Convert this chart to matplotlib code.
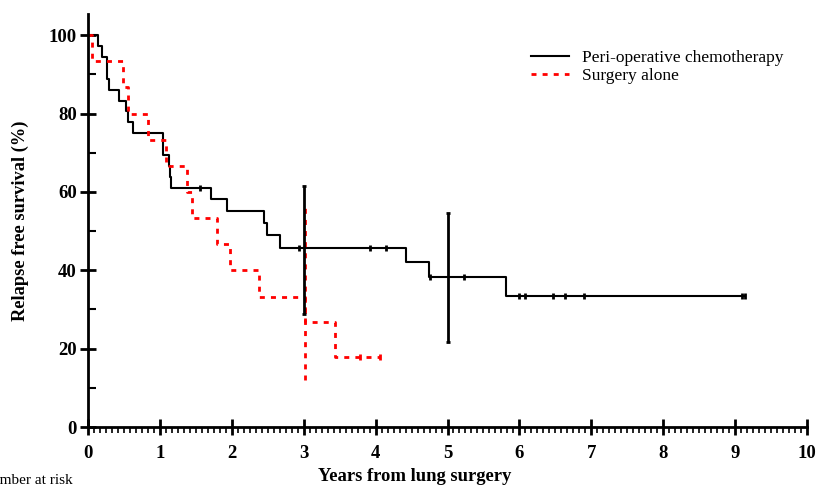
import numpy as np
import matplotlib
matplotlib.use("Agg")
import matplotlib.pyplot as plt
from matplotlib.ticker import MultipleLocator

plt.rcParams['font.family'] = ['Liberation Serif', 'DejaVu Serif']

# Peri-operative chemotherapy (Kaplan-Meier steps)
chemo_t = [0, 0.135, 0.19, 0.27, 0.29, 0.435, 0.53, 0.55, 0.63, 1.05, 1.12, 1.14,
           1.16, 1.71, 1.94, 2.45, 2.49, 2.67, 4.42, 4.74, 5.81, 9.14]
chemo_s = [100, 97.2, 94.4, 88.9, 86.1, 83.3, 80.6, 77.8, 75.0, 69.4, 66.7, 63.9,
           61.1, 58.1, 55.1, 52.0, 49.0, 45.8, 42.0, 38.3, 33.5, 33.5]
chemo_cens_t = [1.56, 2.93, 3.92, 4.14, 4.76, 5.23, 5.99, 6.08, 6.47, 6.63, 6.90, 9.09, 9.14]
chemo_cens_s = [61.1, 45.8, 45.8, 45.8, 38.3, 38.3, 33.5, 33.5, 33.5, 33.5, 33.5, 33.5, 33.5]
chemo_err_t = [3.0, 5.0]
chemo_err_mid = [45.8, 38.3]
chemo_err_lo = [28.8, 21.8]
chemo_err_hi = [61.5, 54.5]

# Surgery alone
surg_t = [0, 0.06, 0.49, 0.56, 0.84, 1.08, 1.38, 1.44, 1.79, 1.97, 2.38, 3.02, 3.44, 4.06]
surg_s = [100, 93.3, 86.7, 80.0, 73.3, 66.7, 60.0, 53.3, 46.7, 40.0, 33.3, 26.7, 17.8, 17.8]
surg_cens_t = [3.78, 4.06]
surg_cens_s = [17.8, 17.8]
surg_err_t = [3.02]
surg_err_lo = [12.0]
surg_err_hi = [56.2]

fig = plt.figure(figsize=(8.19, 4.86), dpi=100)
ax = fig.add_axes([88/819, 1-427/486, (807-88)/819, (427-14)/486])

red_ls = (0, (1.8, 2.2))
ax.step(chemo_t, chemo_s, where='post', color='black', lw=1.5,
        label='Peri-operative chemotherapy')
ax.step(surg_t, surg_s, where='post', color='#ff0000', lw=2.0, linestyle=red_ls,
        label='Surgery alone')

ax.plot(chemo_cens_t, chemo_cens_s, '|', color='black', ms=5, mew=2)
ax.plot(surg_cens_t, surg_cens_s, '|', color='#ff0000', ms=4, mew=2)

ax.vlines(surg_err_t, surg_err_lo, surg_err_hi, color='#ff0000', lw=2.0, linestyle=red_ls)
lo = np.array(chemo_err_mid) - np.array(chemo_err_lo)
hi = np.array(chemo_err_hi) - np.array(chemo_err_mid)
ax.errorbar(chemo_err_t, chemo_err_mid, yerr=[lo, hi], fmt='none', ecolor='black',
            elinewidth=2, capsize=1.5, capthick=2)

ax.set_xlim(0, 10)
ax.set_ylim(0, 105.4)
ax.spines['top'].set_visible(False)
ax.spines['right'].set_visible(False)
for s in ['left', 'bottom']:
    ax.spines[s].set_linewidth(2)

ax.xaxis.set_major_locator(MultipleLocator(1))
ax.xaxis.set_minor_locator(MultipleLocator(1/12))
ax.yaxis.set_major_locator(MultipleLocator(20))
ax.yaxis.set_minor_locator(MultipleLocator(10))
ax.tick_params(axis='both', which='major', direction='inout', length=12, width=2,
               labelsize=13.5, pad=2)
ax.tick_params(axis='x', which='major', pad=7)
ax.tick_params(axis='x', which='minor', direction='out', length=4, width=1.2)
ax.tick_params(axis='y', which='minor', direction='in', length=6, width=1.5)
for lab in ax.get_xticklabels() + ax.get_yticklabels():
    lab.set_fontweight('bold')

ax.set_xlabel('Years from lung surgery', fontsize=13.4, fontweight='bold', labelpad=1)
ax.xaxis.set_label_coords((415-88)/719, -0.10)
ax.set_ylabel('Relapse free survival (%)', fontsize=13.2, fontweight='bold', labelpad=14)

ax.legend(loc='upper left', bbox_to_anchor=(531/819, 1-50/486),
          bbox_transform=fig.transFigure, frameon=False, fontsize=12.5,
          handlelength=2.2, handletextpad=0.75, labelspacing=0.1,
          borderpad=0, borderaxespad=0)

fig.text(73/819, 2/486, 'Number at risk', ha='right', va='baseline', fontsize=11)

fig.savefig('out.png', dpi=100)
